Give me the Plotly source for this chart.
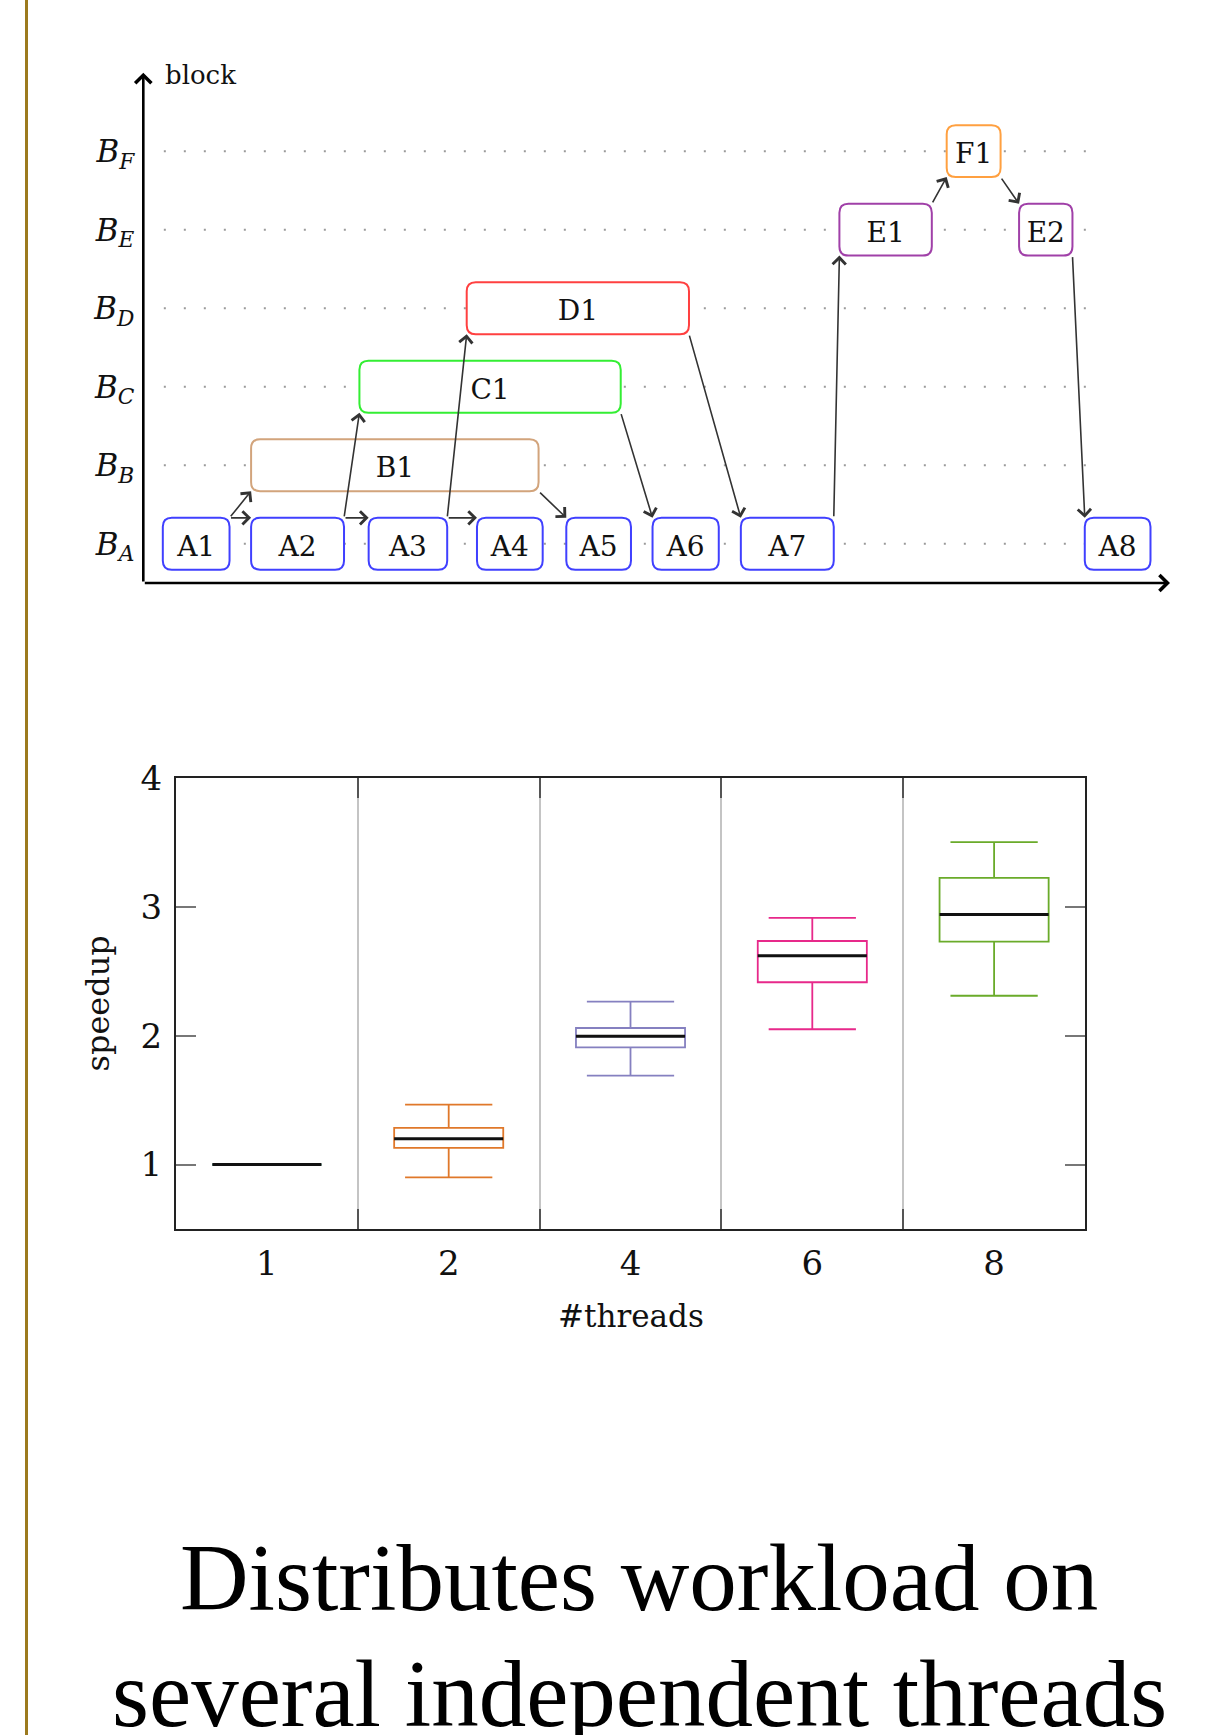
import plotly.graph_objects as go

W, H = 1207, 1735

# ---------------- top diagram data ----------------
block_names = ["A1", "A2", "A3", "A4", "A5", "A6", "A7", "A8",
               "B1", "C1", "D1", "E1", "E2", "F1"]
block_level = [0, 0, 0, 0, 0, 0, 0, 0, 1, 2, 3, 4, 4, 5]
block_start = [1.9, 10.5, 21.95, 32.5, 41.2, 49.6, 58.2, 91.7,
               10.5, 21.05, 31.5, 67.8, 85.3, 78.25]
block_end = [8.4, 19.55, 29.6, 38.9, 47.5, 56.05, 67.25, 98.1,
             38.5, 46.5, 53.15, 76.8, 90.5, 83.5]
level_labels = ["<i>B</i><sub><i>A</i></sub>", "<i>B</i><sub><i>B</i></sub>",
                "<i>B</i><sub><i>C</i></sub>", "<i>B</i><sub><i>D</i></sub>",
                "<i>B</i><sub><i>E</i></sub>", "<i>B</i><sub><i>F</i></sub>"]
edges = [("A1", "B1"), ("A1", "A2"), ("A2", "C1"), ("A2", "A3"),
         ("A3", "D1"), ("A3", "A4"), ("B1", "A5"), ("C1", "A6"),
         ("D1", "A7"), ("A7", "E1"), ("E1", "F1"), ("F1", "E2"),
         ("E2", "A8")]

# ---------------- bottom chart data ----------------
threads = ["1", "2", "4", "6", "8"]
lower_whisker = [1.0, 0.90, 1.69, 2.05, 2.31]
q1_vals = [1.0, 1.13, 1.91, 2.415, 2.73]
median_vals = [1.0, 1.20, 1.995, 2.62, 2.94]
q3_vals = [1.0, 1.285, 2.06, 2.735, 3.225]
upper_whisker = [1.0, 1.465, 2.265, 2.915, 3.502]
y_ticks = [1, 2, 3, 4]

# ---------------- styles ----------------
level_colors = ["#4040ff", "#d2a47c", "#33ee33", "#ff4040", "#a040a8", "#ffa040"]
box_colors = ["#1b9e77", "#e0782a", "#8580c0", "#e7298a", "#6aab2a"]
chart_font = "DejaVu Serif"
caption_font = "Liberation Serif"

def px_x(p):
    return p / W

def px_y(p):
    return 1 - p / H

# domains (paper fractions)
x2_dom = [px_x(143.3), px_x(1170)]
y2_dom = [px_y(583), px_y(72.7)]
x2_range = [0, 100]
y2_range = [-0.5, 6]
x_dom = [px_x(176), px_x(1085)]
y_dom = [px_y(1229), px_y(778)]

x_ppu = (x2_dom[1] - x2_dom[0]) * W / (x2_range[1] - x2_range[0])
y_ppu = (y2_dom[1] - y2_dom[0]) * H / (y2_range[1] - y2_range[0])

half_h = 0.33
rad_px = 9
rx = rad_px / x_ppu
ry = rad_px / y_ppu
label_drop = 5 / y_ppu   # optical centring of the box labels

fig = go.Figure()
shapes = []
annotations = []

# dotted guide lines
for lev in range(len(level_labels)):
    shapes.append(dict(type="line", xref="x2", yref="y2", x0=2.0, x1=92.7,
                       y0=lev, y1=lev, layer="below",
                       line=dict(color="#9a9a9a", width=2, dash="2px,18px")))

# rounded boxes
for name, lev, s, e in zip(block_names, block_level, block_start, block_end):
    y0, y1 = lev - half_h, lev + half_h
    path = (f"M{s+rx},{y0} L{e-rx},{y0} Q{e},{y0} {e},{y0+ry} "
            f"L{e},{y1-ry} Q{e},{y1} {e-rx},{y1} "
            f"L{s+rx},{y1} Q{s},{y1} {s},{y1-ry} "
            f"L{s},{y0+ry} Q{s},{y0} {s+rx},{y0} Z")
    shapes.append(dict(type="path", xref="x2", yref="y2", path=path,
                       layer="below", fillcolor="white",
                       line=dict(color=level_colors[lev], width=2)))

# block labels
fig.add_trace(go.Scatter(
    x=[(s + e) / 2 for s, e in zip(block_start, block_end)],
    y=[lev - label_drop for lev in block_level], mode="text", text=block_names,
    textfont=dict(family=chart_font, size=28, color="#111"),
    xaxis="x2", yaxis="y2", hoverinfo="skip", showlegend=False,
    cliponaxis=False))

# dependency arrows
idx = {n: i for i, n in enumerate(block_names)}
for src, dst in edges:
    i, j = idx[src], idx[dst]
    ls, ld = block_level[i], block_level[j]
    if ld > ls:
        tail = (block_end[i], ls + half_h)
        head = (block_start[j], ld - half_h)
    elif ld < ls:
        tail = (block_end[i], ls - half_h)
        head = (block_start[j], ld + half_h)
    else:
        tail = (block_end[i], ls + half_h)
        head = (block_start[j], ld + half_h)
    annotations.append(dict(xref="x2", yref="y2", axref="x2", ayref="y2",
                            x=head[0], y=head[1], ax=tail[0], ay=tail[1],
                            text="", showarrow=True, arrowhead=4,
                            arrowsize=1.6, arrowwidth=1.6, arrowcolor="#333",
                            standoff=0, startstandoff=0))

# diagram axes with arrows
annotations.append(dict(xref="x2", yref="y2", axref="x2", ayref="y2",
                        x=x2_range[0], y=y2_range[1], ax=x2_range[0], ay=y2_range[0],
                        text="", showarrow=True, arrowhead=4, arrowsize=1.2,
                        arrowwidth=2.6, arrowcolor="#000", standoff=0))
annotations.append(dict(xref="x2", yref="y2", axref="x2", ayref="y2",
                        x=x2_range[1], y=y2_range[0], ax=x2_range[0], ay=y2_range[0],
                        text="", showarrow=True, arrowhead=4, arrowsize=1.2,
                        arrowwidth=2.6, arrowcolor="#000", standoff=0))
annotations.append(dict(xref="x2", yref="y2", x=x2_range[0], y=y2_range[1],
                        text="block", showarrow=False, xanchor="left",
                        yanchor="middle", xshift=20, yshift=-2,
                        font=dict(family=chart_font, size=26, color="#111")))

# ---------------- bottom box chart ----------------
for k in range(len(threads)):
    fig.add_trace(go.Box(
        x=[k], q1=[q1_vals[k]], median=[median_vals[k]], q3=[q3_vals[k]],
        lowerfence=[lower_whisker[k]], upperfence=[upper_whisker[k]],
        width=0.6, whiskerwidth=0.8, boxpoints=False,
        line=dict(color=box_colors[k], width=1.8),
        fillcolor="rgba(255,255,255,0)", name=threads[k],
        xaxis="x", yaxis="y", showlegend=False, hoverinfo="skip"))

mx, my = [], []
for k, m in enumerate(median_vals):
    mx += [k - 0.3, k + 0.3, None]
    my += [m, m, None]
fig.add_trace(go.Scatter(x=mx, y=my, mode="lines",
                         line=dict(color="#111", width=3),
                         xaxis="x", yaxis="y", showlegend=False,
                         hoverinfo="skip"))

annotations.append(dict(xref="paper", yref="paper", x=(x_dom[0] + x_dom[1]) / 2,
                        y=px_y(1316), text="#threads", showarrow=False,
                        xanchor="center", yanchor="middle",
                        font=dict(family=chart_font, size=31, color="#111")))
annotations.append(dict(xref="paper", yref="paper", x=px_x(97),
                        y=(y_dom[0] + y_dom[1]) / 2, text="speedup",
                        showarrow=False, textangle=-90,
                        xanchor="center", yanchor="middle",
                        font=dict(family=chart_font, size=32, color="#111")))

# caption
annotations.append(dict(xref="paper", yref="paper", x=px_x(639), y=px_y(1578),
                        text="Distributes workload on", showarrow=False,
                        xanchor="center", yanchor="middle",
                        font=dict(family=caption_font, size=95, color="#000")))
annotations.append(dict(xref="paper", yref="paper", x=px_x(639), y=px_y(1694),
                        text="several independent threads", showarrow=False,
                        xanchor="center", yanchor="middle",
                        font=dict(family=caption_font, size=95, color="#000")))

# left gold rule
shapes.append(dict(type="line", xref="paper", yref="paper",
                   x0=px_x(26.5), x1=px_x(26.5), y0=0, y1=1,
                   line=dict(color="#9c7a1e", width=3)))

fig.update_layout(
    width=W, height=H,
    margin=dict(l=0, r=0, t=0, b=0, pad=0, autoexpand=False),
    paper_bgcolor="white", plot_bgcolor="white",
    shapes=shapes, annotations=annotations, showlegend=False,
    xaxis=dict(domain=x_dom, anchor="y", range=[-0.5, len(threads) - 0.5],
               tickvals=list(range(len(threads))), ticktext=threads, ticks="",
               showgrid=False, zeroline=False, showline=True,
               linecolor="#222", linewidth=2, mirror="ticks",
               ticklabelstandoff=3, automargin=False,
               tickfont=dict(family=chart_font, size=34, color="#111"),
               minor=dict(tickvals=[k + 0.5 for k in range(len(threads) - 1)],
                          ticks="inside", ticklen=20, tickcolor="#555",
                          tickwidth=2, showgrid=True, gridcolor="#c4c4c4",
                          gridwidth=1.5)),
    yaxis=dict(domain=y_dom, anchor="x", range=[0.5, 4], tickvals=y_ticks,
               ticks="inside", ticklen=20, tickcolor="#777", tickwidth=1.5,
               showgrid=False, zeroline=False, showline=True,
               linecolor="#222", linewidth=2, mirror="ticks",
               ticklabelstandoff=5, automargin=False,
               tickfont=dict(family=chart_font, size=34, color="#111")),
    xaxis2=dict(domain=x2_dom, anchor="y2", range=x2_range, visible=False,
                automargin=False),
    yaxis2=dict(domain=y2_dom, anchor="x2", range=y2_range,
                tickvals=list(range(len(level_labels))), ticktext=level_labels,
                ticks="", showgrid=False, zeroline=False, showline=False,
                ticklabelstandoff=8, automargin=False,
                tickfont=dict(family=chart_font, size=31, color="#111")),
)

fig.write_html("out.html", config={"displayModeBar": False},
               post_script="document.body.style.margin='0';")
